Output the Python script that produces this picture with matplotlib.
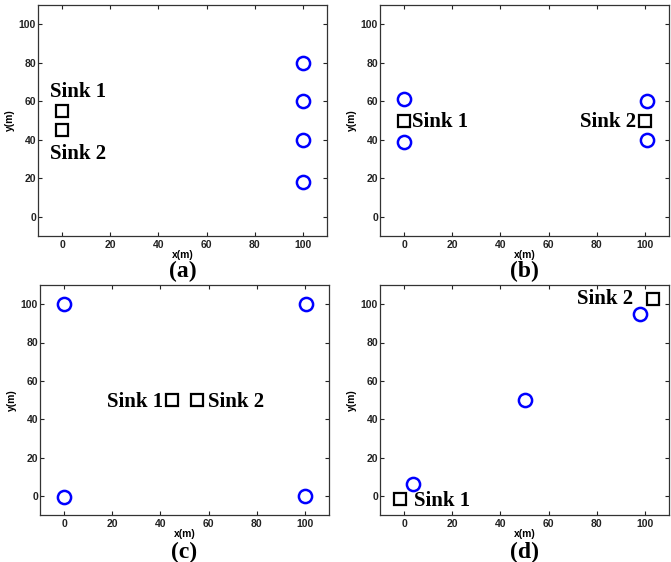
import matplotlib
matplotlib.use("Agg")
import matplotlib.pyplot as plt

# ---- data ----
panel_labels = ["(a)", "(b)", "(c)", "(d)"]
xticks = [0, 20, 40, 60, 80, 100]
yticks = [0, 20, 40, 60, 80, 100]

nodes_a_x = [100, 100, 100, 100]
nodes_a_y = [80, 60, 40, 18]
sinks_a_x = [0, 0]
sinks_a_y = [55, 45]

nodes_b_x = [0, 0, 101, 101]
nodes_b_y = [61, 39, 60, 40]
sinks_b_x = [0, 100]
sinks_b_y = [50, 50]

nodes_c_x = [0, 100.5, 0, 100]
nodes_c_y = [100, 100, -0.5, 0]
sinks_c_x = [45, 55]
sinks_c_y = [50, 50]

nodes_d_x = [3.8, 50.4, 97.8]
nodes_d_y = [6.4, 50.2, 94.8]
sinks_d_x = [-1.7, 103.5]
sinks_d_y = [-1.9, 102.8]

# sink label texts: (text, x, y, ha, va)
labels_a = [("Sink 1", -5, 62, "left", "baseline"), ("Sink 2", -5, 30, "left", "baseline")]
labels_b = [("Sink 1", 3.3, 49, "left", "center"), ("Sink 2", 96.5, 49, "right", "center")]
labels_c = [("Sink 1", 41, 49, "right", "center"), ("Sink 2", 59.8, 49, "left", "center")]
labels_d = [("Sink 1", 4.2, -2.5, "left", "center"), ("Sink 2", 95, 102.5, "right", "center")]

W, H = 671, 562
fig = plt.figure(figsize=(W / 100, H / 100), dpi=100)

# axes boxes in pixels: left, top, right, bottom
boxes = [(38, 5, 327, 236), (380, 5, 669, 236), (40, 285, 329, 515), (380, 285, 669, 515)]
panel_data = [
    (nodes_a_x, nodes_a_y, sinks_a_x, sinks_a_y, labels_a),
    (nodes_b_x, nodes_b_y, sinks_b_x, sinks_b_y, labels_b),
    (nodes_c_x, nodes_c_y, sinks_c_x, sinks_c_y, labels_c),
    (nodes_d_x, nodes_d_y, sinks_d_x, sinks_d_y, labels_d),
]
label_y = [271, 271, 552, 552]

sans = "Liberation Sans"
serif = "Liberation Serif"

for i, ((l, t, r, b), (nx, ny, sx, sy, labs)) in enumerate(zip(boxes, panel_data)):
    ax = fig.add_axes([l / W, 1 - b / H, (r - l) / W, (b - t) / H])
    ax.plot(nx, ny, "o", ls="none", ms=9.5, mfc="none", mec="#0000ff", mew=1.8)
    ax.plot(sx, sy, "s", ls="none", ms=8.5, mfc="none", mec="black", mew=1.6)
    for (txt, x, y, ha, va) in labs:
        ax.text(x, y, txt, ha=ha, va=va, fontsize=15, fontweight="bold",
                family=serif, color="black")
    ax.set_xlim(-10, 110)
    ax.set_ylim(-10, 110)
    ax.set_xticks(xticks)
    ax.set_yticks(yticks)
    ax.tick_params(direction="in", length=3, width=0.8, top=True, right=True,
                   labelsize=7.5, colors="#222222")
    ax.tick_params(axis="x", pad=3)
    ax.tick_params(axis="y", pad=1.5)
    for lab in ax.get_xticklabels() + ax.get_yticklabels():
        lab.set_fontweight("bold")
        lab.set_family(sans)
    for sp in ax.spines.values():
        sp.set_color("#333333")
        sp.set_linewidth(0.9)
    ax.set_xlabel("x(m)", fontsize=7.5, fontweight="bold", family=sans, labelpad=0)
    ax.set_ylabel("y(m)", fontsize=7.5, fontweight="bold", family=sans, labelpad=3)
    fig.text(((l + r) / 2) / W, 1 - label_y[i] / H, panel_labels[i], ha="center", va="center",
             fontsize=17, fontweight="bold", family=serif)

fig.savefig("out.png", dpi=100, facecolor="white")
